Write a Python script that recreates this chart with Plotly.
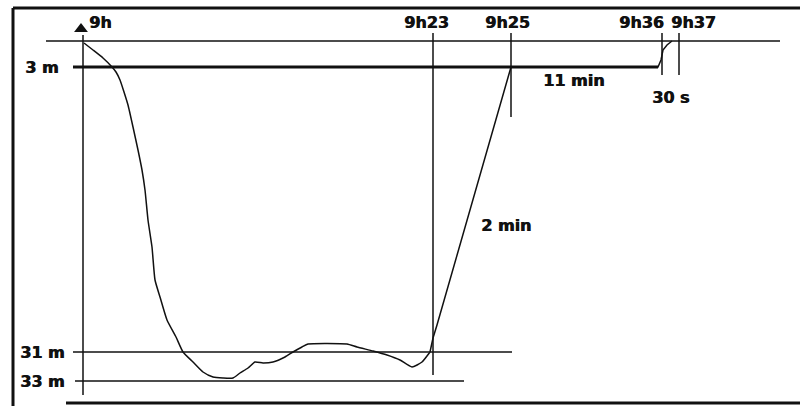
import plotly.graph_objects as go

# Schematic dive profile (not to scale): positions are in schematic units
# x = schematic time position, y = schematic depth position (down = deeper)

# Event times and where their marker lines sit on the schematic time scale
time_labels = ["9h", "9h23", "9h25", "9h36", "9h37"]
time_pos = [83, 433, 511, 662, 679]
time_line_top = [35, 33, 33, 33, 33]
time_line_bottom = [395, 375, 117, 75, 75]
time_label_x = [100, 426, 507, 641, 693]

# Depth levels
depth_labels = ["3 m", "31 m", "33 m"]
depth_pos = [67, 352, 381]
depth_line_start = [73, 73, 75]
depth_line_end = [658, 512, 464]
depth_line_width = [3, 1.5, 1.5]
depth_label_x = [41, 42, 42]

# Surface line
surface_depth = 41
surface_start, surface_end = 46, 780

# Duration annotations
duration_labels = ["11 min", "30 s", "2 min"]
duration_x = [573, 670, 506]
duration_y = [80, 97, 225]

# Dive profile
profile_time = [84, 93, 103, 112, 116, 120, 124, 128, 133, 138, 142, 145, 148, 152,
                155, 160, 167, 176, 183, 193, 203, 213, 223, 233, 240, 248,
                255, 263, 273, 285, 293, 302, 308, 347, 357, 373, 387, 400,
                412, 422, 430, 433, 437, 445, 472, 511, 658, 661, 663, 667, 672]
profile_depth = [43, 50, 58, 67, 72, 80, 92, 105, 127, 150, 170, 190, 220, 247,
                 280, 297, 320, 337, 352, 362, 372, 377, 378, 378, 373, 368,
                 362, 363, 362, 357, 352, 347, 344, 344, 347, 351, 355, 360,
                 367, 362, 352, 338, 325, 297, 202, 67, 67, 60, 50, 45, 41]
split = 41  # smooth descent/bottom part, straight ascent and stop

INK = "#111111"
FONT = dict(family="DejaVu Sans", size=16, color=INK, weight="bold",
            shadow="0.7px 0px 0px #111111")

fig = go.Figure()

# surface line
fig.add_trace(go.Scatter(x=[surface_start, surface_end], y=[surface_depth, surface_depth],
                         mode="lines", line=dict(color=INK, width=1.5), hoverinfo="skip"))

# depth level lines
for y0, xs, xe, w in zip(depth_pos, depth_line_start, depth_line_end, depth_line_width):
    fig.add_trace(go.Scatter(x=[xs, xe], y=[y0, y0], mode="lines",
                             line=dict(color=INK, width=w), hoverinfo="skip"))

# time marker lines
for xp, yt, yb in zip(time_pos, time_line_top, time_line_bottom):
    fig.add_trace(go.Scatter(x=[xp, xp], y=[yt, yb], mode="lines",
                             line=dict(color=INK, width=1.5), hoverinfo="skip"))

# arrow head on the time axis
fig.add_trace(go.Scatter(x=[time_pos[0] - 2], y=[time_line_top[0] - 6], mode="markers",
                         marker=dict(symbol="triangle-up", size=12, color=INK),
                         hoverinfo="skip"))

# profile: smooth descent and bottom, straight ascent and stop
fig.add_trace(go.Scatter(x=profile_time[:split], y=profile_depth[:split], mode="lines",
                         line=dict(color=INK, width=1.5, shape="spline", smoothing=0.5),
                         hoverinfo="skip"))
fig.add_trace(go.Scatter(x=profile_time[split - 1:], y=profile_depth[split - 1:], mode="lines",
                         line=dict(color=INK, width=1.5), hoverinfo="skip"))

annotations = []
for lab, x in zip(time_labels, time_label_x):
    annotations.append(dict(x=x, y=22, text=lab, showarrow=False, font=FONT,
                            xanchor="center", yanchor="middle"))
for lab, x, y in zip(depth_labels, depth_label_x, depth_pos):
    annotations.append(dict(x=x, y=y, text=lab, showarrow=False, font=FONT,
                            xanchor="center", yanchor="middle"))
for lab, x, y in zip(duration_labels, duration_x, duration_y):
    annotations.append(dict(x=x, y=y, text=lab, showarrow=False, font=FONT,
                            xanchor="center", yanchor="middle"))

# frame
shapes = [
    dict(type="line", x0=13, x1=800, y0=8, y1=8, line=dict(color=INK, width=3)),
    dict(type="line", x0=13, x1=13, y0=8, y1=406, line=dict(color=INK, width=3)),
    dict(type="line", x0=66, x1=800, y0=403, y1=403, line=dict(color=INK, width=3)),
]

fig.update_layout(
    width=800, height=406,
    margin=dict(l=0, r=0, t=0, b=0),
    paper_bgcolor="white", plot_bgcolor="white",
    showlegend=False,
    xaxis=dict(range=[0, 800], visible=False, fixedrange=True),
    yaxis=dict(range=[406, 0], visible=False, fixedrange=True),
    annotations=annotations,
    shapes=shapes,
)

fig.write_html(
    "out.html",
    config={"displayModeBar": False},
    post_script="document.body.style.margin='0';document.body.style.overflow='hidden';",
)
